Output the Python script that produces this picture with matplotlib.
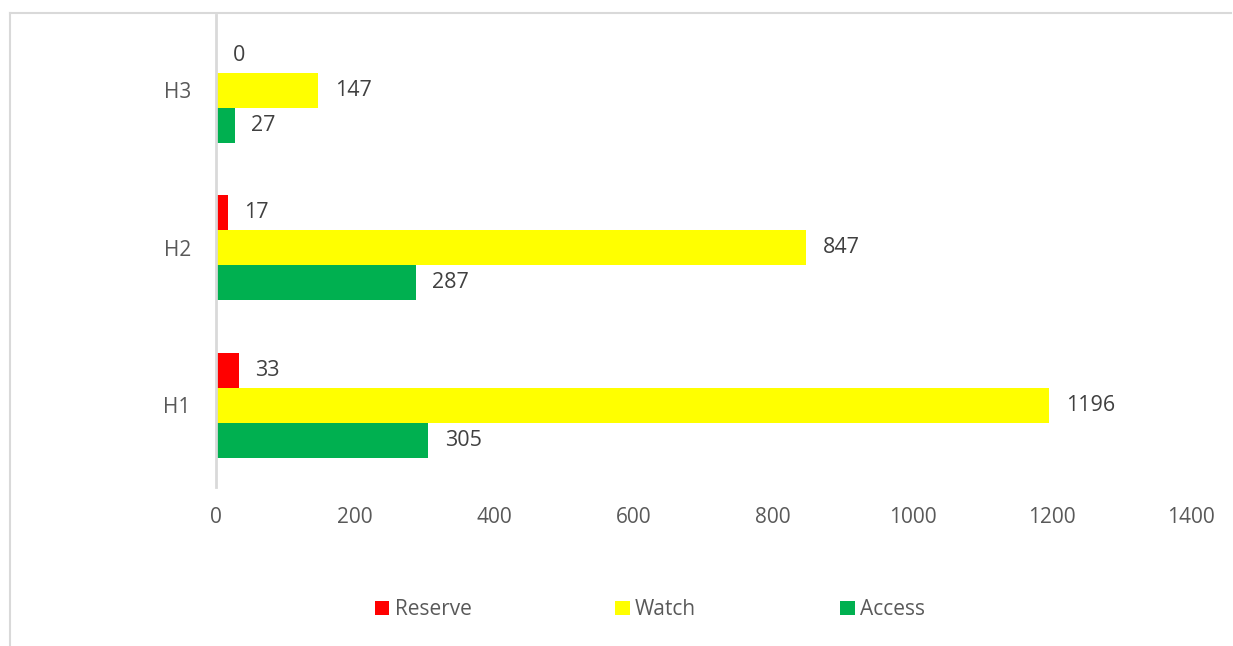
import matplotlib.pyplot as plt
from matplotlib.lines import Line2D
import numpy as np

# data
categories = ["H1", "H2", "H3"]
access = [305, 287, 27]
watch = [1196, 847, 147]
reserve = [33, 17, 0]

plt.rcParams['font.family'] = ['Open Sans', 'DejaVu Sans']

fig = plt.figure(figsize=(12.33, 6.46), dpi=100)
ax = fig.add_axes([0.175, 0.246, 0.791, 0.731])

y = np.arange(len(categories))
h = 0.223

series = [("Access", access, "#00b050", -h),
          ("Watch", watch, "#ffff00", 0),
          ("Reserve", reserve, "#ff0000", h)]
bars = {}
for name, vals, col, off in series:
    b = ax.barh(y + off, vals, height=h, color=col, label=name)
    bars[name] = b
    ax.bar_label(b, labels=[str(v) for v in vals], padding=12,
                 fontsize=15.5, color="#404040")

ax.set_xlim(0, 1400)
ax.set_ylim(-0.52, 2.48)
ax.set_xticks(range(0, 1401, 200))
ax.set_yticks(y)
ax.set_yticklabels(categories)
ax.tick_params(axis="both", length=0, labelsize=15, labelcolor="#595959")
ax.tick_params(axis="x", pad=14)
ax.tick_params(axis="y", pad=18)

for s in ["top", "right", "bottom"]:
    ax.spines[s].set_visible(False)
ax.spines["left"].set_color("#d9d9d9")
ax.spines["left"].set_linewidth(2)

# outer chart border (left and top edges visible)
fig.add_artist(Line2D([0.008, 0.008], [0.0, 0.98], color="#d9d9d9", lw=1.5,
                      transform=fig.transFigure))
fig.add_artist(Line2D([0.008, 0.998], [0.98, 0.98], color="#d9d9d9", lw=1.5,
                      transform=fig.transFigure))

handles = [bars["Reserve"], bars["Watch"], bars["Access"]]
fig.legend(handles, ["Reserve", "Watch", "Access"], loc="center",
           bbox_to_anchor=(0.527, 0.056), ncol=3, frameon=False,
           handlelength=0.7, handleheight=0.7, handletextpad=0.25,
           columnspacing=6.9, fontsize=15, labelcolor="#595959")

fig.savefig("out.png", dpi=100)
